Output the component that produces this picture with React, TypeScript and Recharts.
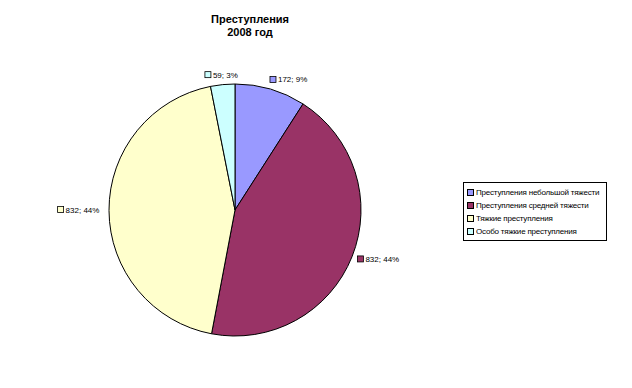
import { PieChart, Pie, Cell, Legend } from "recharts";

const categories = [
  "Преступления небольшой тяжести",
  "Преступления средней тяжести",
  "Тяжкие преступления",
  "Особо тяжкие преступления",
];
const counts = [172, 832, 832, 59];
const percentLabels = ["9%", "44%", "44%", "3%"];
const colors = ["#9999FF", "#993366", "#FFFFCC", "#CCFFFF"];

const data = categories.map((name, i) => ({
  name,
  value: counts[i],
  pct: percentLabels[i],
  color: colors[i],
}));

const FONT = "'Liberation Sans', Arial, sans-serif";

const renderLabel = (props: any) => {
  const { cx, cy, midAngle, outerRadius, index } = props;
  const rad = (Math.PI / 180) * midAngle;
  const r = outerRadius + 9;
  const px = cx + r * Math.cos(rad);
  const py = cy - r * Math.sin(rad) + 2;
  const text = `${counts[index]}; ${percentLabels[index]}`;
  const w = 8 + text.length * 4.3;
  const c = Math.cos(rad);
  let startX = px - 3;
  if (c < -0.15) startX = px - w;
  else if (c < 0.15) startX = px - w / 2;
  return (
    <g key={`lbl-${index}`}>
      <rect
        x={startX}
        y={py - 6}
        width={6}
        height={6}
        fill={colors[index]}
        stroke="#000"
        strokeWidth={0.8}
      />
      <text
        x={startX + 8}
        y={py}
        fontSize={8}
        fontFamily={FONT}
        fill="#000"
        stroke="none"
        textAnchor="start"
      >
        {text}
      </text>
    </g>
  );
};

const renderLegend = () => (
  <div
    style={{
      border: "1px solid #000",
      padding: "3px 6px 2px 3px",
      background: "#fff",
      fontFamily: FONT,
      fontSize: 8,
      lineHeight: "13px",
      whiteSpace: "nowrap",
      letterSpacing: -0.2,
      width: 133,
    }}
  >
    {data.map((d) => (
      <div key={d.name} style={{ display: "flex", alignItems: "center" }}>
        <span
          style={{
            display: "inline-block",
            width: 5,
            height: 5,
            background: d.color,
            border: "1px solid #000",
            marginRight: 2,
            flexShrink: 0,
          }}
        />
        <span>{d.name}</span>
      </div>
    ))}
  </div>
);

export default function App() {
  return (
    <div
      style={{
        position: "absolute",
        left: 0,
        top: 0,
        width: 632,
        height: 388,
        background: "#fff",
      }}
    >
      <div
        style={{
          position: "absolute",
          left: 150,
          top: 13,
          width: 200,
          textAlign: "center",
          fontFamily: FONT,
          fontWeight: "bold",
          fontSize: 11,
          lineHeight: "13px",
          zIndex: 2,
        }}
      >
        Преступления
        <br />
        2008 год
      </div>
      <PieChart width={632} height={388} margin={{ top: 0, right: 0, bottom: 0, left: 0 }}>
        <Pie
          data={data}
          dataKey="value"
          nameKey="name"
          cx={235}
          cy={210}
          outerRadius={126}
          startAngle={90}
          endAngle={-270}
          stroke="#000"
          strokeWidth={1}
          label={renderLabel}
          labelLine={false}
          isAnimationActive={false}
        >
          {data.map((d) => (
            <Cell key={d.name} fill={d.color} />
          ))}
        </Pie>
        <Legend
          content={renderLegend}
          wrapperStyle={{ position: "absolute", left: 463, top: 182, width: "auto" }}
        />
      </PieChart>
    </div>
  );
}
